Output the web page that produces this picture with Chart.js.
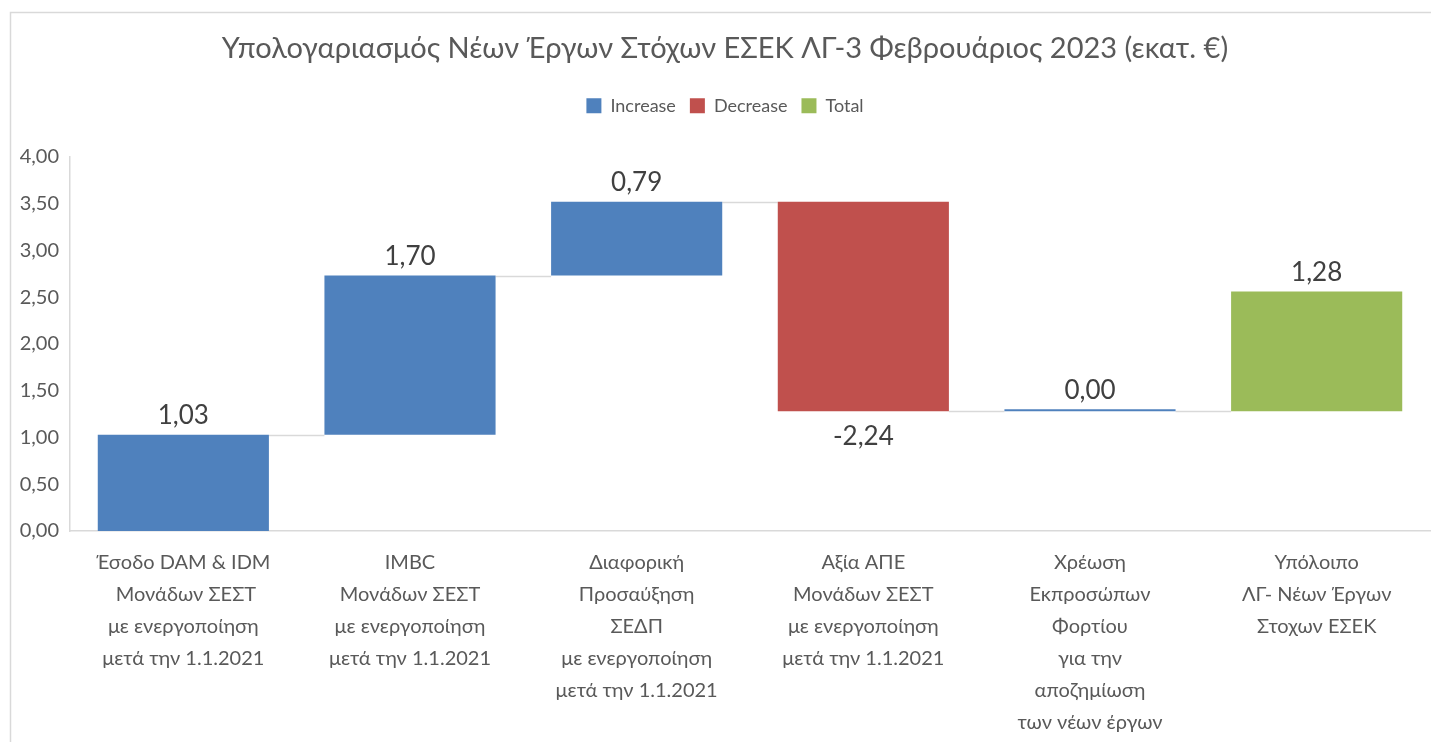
<!DOCTYPE html>
<html>
<head>
<meta charset="utf-8">
<script src="https://cdn.jsdelivr.net/npm/chart.js@4"></script>
<style>
  html, body { margin: 0; padding: 0; background: #ffffff; }
  #wrap { width: 1431px; height: 742px; }
</style>
</head>
<body>
<div id="wrap"><canvas id="c" width="1431" height="742"></canvas></div>
<script>
// Waterfall categories (multi-line axis labels)
const categories = [
  ['Έσοδο DAM & IDM', ' Μονάδων ΣΕΣΤ', 'με ενεργοποίηση', 'μετά την 1.1.2021'],
  ['IMBC', 'Μονάδων ΣΕΣΤ', 'με ενεργοποίηση', 'μετά την 1.1.2021'],
  ['Διαφορική', 'Προσαύξηση', 'ΣΕΔΠ', 'με ενεργοποίηση', 'μετά την 1.1.2021'],
  ['Αξία ΑΠΕ', 'Μονάδων ΣΕΣΤ', 'με ενεργοποίηση', 'μετά την 1.1.2021'],
  ['Χρέωση', 'Εκπροσώπων', 'Φορτίου', 'για την', 'αποζημίωση', 'των νέων έργων'],
  ['Υπόλοιπο', 'ΛΓ- Νέων Έργων', 'Στοχων ΕΣΕΚ']
];
// Step values (εκατ. €)
const changes = [1.03, 1.70, 0.79, -2.24, 0.00, 1.28];
// Kind of each step
const kinds = ['Increase', 'Increase', 'Increase', 'Decrease', 'Increase', 'Total'];
// Value axis ticks
const yTickValues = [0, 0.5, 1, 1.5, 2, 2.5, 3, 3.5, 4];

const seriesNames = ['Increase', 'Decrease', 'Total'];
const seriesColors = ['#4F81BD', '#C0504D', '#9BBB59'];

const FONT = "Lato, 'Open Sans', 'Noto Sans', sans-serif";
const fmt = v => v.toFixed(2).replace('.', ',');

// Each step floats from the running level before it
const ranges = [];
const ends = [];
let level = 0;
changes.forEach(v => {
  ranges.push([level, level + v]);
  level += v;
  ends.push(level);
});

const datasets = seriesNames.map((name, s) => ({
  label: name,
  data: ranges.map((r, i) => (kinds[i] === name ? r : null)),
  backgroundColor: seriesColors[s],
  borderWidth: 0,
  barPercentage: 0.755,
  categoryPercentage: 1,
  minBarLength: 2
}));

const barFor = (chart, i) => {
  const ds = seriesNames.indexOf(kinds[i]);
  return chart.getDatasetMeta(ds).data[i];
};

// Outer frame of the chart
const frame = {
  id: 'frame',
  beforeDraw(chart) {
    const ctx = chart.ctx;
    ctx.save();
    ctx.strokeStyle = '#D9D9D9';
    ctx.lineWidth = 1.5;
    ctx.strokeRect(10.5, 12.5, chart.width + 20, chart.height + 20);
    ctx.restore();
  }
};

// Connector lines between consecutive steps
const connectors = {
  id: 'connectors',
  beforeDatasetsDraw(chart) {
    const ctx = chart.ctx;
    const y = chart.scales.y;
    ctx.save();
    ctx.strokeStyle = '#D9D9D9';
    ctx.lineWidth = 1.5;
    for (let i = 0; i < changes.length - 1; i++) {
      const a = barFor(chart, i), b = barFor(chart, i + 1);
      const py = Math.round(y.getPixelForValue(ends[i])) + 0.5;
      ctx.beginPath();
      ctx.moveTo(a.x + a.width / 2, py);
      ctx.lineTo(b.x - b.width / 2, py);
      ctx.stroke();
    }
    ctx.restore();
  }
};

// Value labels above (or below, for decreases) each bar
const valueLabels = {
  id: 'valueLabels',
  afterDatasetsDraw(chart) {
    const ctx = chart.ctx;
    ctx.save();
    ctx.font = '26px ' + FONT;
    ctx.fillStyle = '#404040';
    ctx.textAlign = 'center';
    ctx.textBaseline = 'middle';
    changes.forEach((v, i) => {
      const el = barFor(chart, i);
      const top = Math.min(el.y, el.base), bottom = Math.max(el.y, el.base);
      const py = v < 0 ? bottom + 25 : top - 19;
      ctx.fillText(fmt(v), el.x, py);
    });
    ctx.restore();
  }
};

// Extra room under the legend
const legendGap = {
  id: 'legendGap',
  beforeInit(chart) {
    const fit = chart.legend.fit;
    chart.legend.fit = function () { fit.call(this); this.height += 32; };
  }
};

new Chart(document.getElementById('c'), {
  type: 'bar',
  data: { labels: categories, datasets },
  plugins: [frame, connectors, valueLabels, legendGap],
  options: {
    responsive: false,
    animation: false,
    events: [],
    layout: { padding: { left: 20, right: 1, top: 0, bottom: 0 } },
    plugins: {
      title: {
        display: true,
        text: 'Υπολογαριασμός Νέων Έργων Στόχων ΕΣΕΚ ΛΓ-3 Φεβρουάριος 2023 (εκατ. €)',
        color: '#595959',
        font: { family: FONT, size: 29, weight: 'normal', lineHeight: 1.2 },
        padding: { top: 31, bottom: 17 }
      },
      legend: {
        display: true,
        position: 'top',
        labels: {
          boxWidth: 15, boxHeight: 15, padding: 14,
          color: '#595959',
          font: { family: FONT, size: 18 }
        }
      },
      tooltip: { enabled: false }
    },
    scales: {
      x: {
        stacked: true,
        grid: { display: false, drawTicks: false },
        border: { display: true, color: '#D9D9D9', width: 1.5 },
        ticks: {
          autoSkip: false, maxRotation: 0, minRotation: 0,
          color: '#595959', padding: 16,
          font: { family: FONT, size: 20, lineHeight: 1.6 }
        },
        afterFit(scale) { scale.height = 211; }
      },
      y: {
        min: 0, max: 4,
        grid: { display: false, drawTicks: false },
        border: { display: true, color: '#D9D9D9', width: 1.5 },
        afterBuildTicks(scale) { scale.ticks = yTickValues.map(v => ({ value: v })); },
        ticks: {
          color: '#595959', padding: 11,
          font: { family: FONT, size: 20 },
          callback: v => fmt(v)
        },
        afterFit(scale) { scale.width = 50; }
      }
    }
  }
});
</script>
</body>
</html>
